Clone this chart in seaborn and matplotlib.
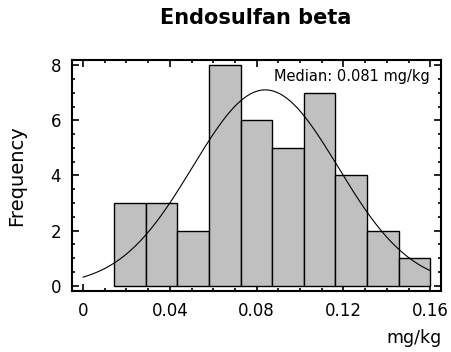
import numpy as np
import matplotlib
matplotlib.use("Agg")
import matplotlib.pyplot as plt
import seaborn as sns
from matplotlib.ticker import MultipleLocator

# Data
bin_edges = [0.0144, 0.0290, 0.0435, 0.0581, 0.0727, 0.0872, 0.1018, 0.1163, 0.1309, 0.1454, 0.1600]
counts = [3, 3, 2, 8, 6, 5, 7, 4, 2, 1]
fit_mean = 0.084
fit_sd = 0.0335
median_value = 0.081
title = "Endosulfan beta"
x_label = "mg/kg"
y_label = "Frequency"

sns.set_style("ticks")
plt.rcParams['font.family'] = ['DejaVu Sans']
plt.rcParams['text.color'] = 'black'
plt.rcParams['axes.labelcolor'] = 'black'

fig = plt.figure(figsize=(4.51, 3.52), dpi=100)
ax = fig.add_axes([0.160, 0.173, 0.818, 0.657])

centers = [(bin_edges[i] + bin_edges[i + 1]) / 2 for i in range(len(counts))]
sns.histplot(x=centers, weights=counts, bins=bin_edges, ax=ax,
             color="#c0c0c0", edgecolor="black", linewidth=1.0, alpha=1.0)

# Fitted normal curve scaled to counts
n_total = sum(counts)
bw = (bin_edges[-1] - bin_edges[0]) / len(counts)
xs = np.linspace(0, 0.16, 200)
ys = n_total * bw / (fit_sd * np.sqrt(2 * np.pi)) * np.exp(-(xs - fit_mean) ** 2 / (2 * fit_sd ** 2))
sns.lineplot(x=xs, y=ys, ax=ax, color="black", linewidth=0.8)

ax.set_xlim(-0.005, 0.165)
ax.set_ylim(-0.2, 8.2)
ax.set_xticks([0, 0.04, 0.08, 0.12, 0.16])
ax.set_xticklabels(["0", "0.04", "0.08", "0.12", "0.16"])
ax.set_yticks([0, 2, 4, 6, 8])
ax.xaxis.set_minor_locator(MultipleLocator(0.01))
ax.yaxis.set_minor_locator(MultipleLocator(0.5))
ax.tick_params(which="both", direction="in", top=True, right=True, width=1.2,
               labelsize=12, colors="black", labelcolor="black")
ax.tick_params(which="major", length=5, pad=8)
ax.tick_params(which="minor", length=2.5)
for s in ax.spines.values():
    s.set_linewidth(1.5)
    s.set_color("black")

ax.set_ylabel(y_label, fontsize=14, color="black")
ax.yaxis.set_label_coords(-0.125, 0.5)
ax.set_xlabel("")
fig.text(0.98, 0.04, x_label, ha="right", va="center", fontsize=12.5, color="black")
fig.text(0.568, 0.95, title, ha="center", va="center", fontsize=15, fontweight="bold", color="black")
ax.text(0.97, 0.96, f"Median: {median_value} mg/kg", transform=ax.transAxes,
        ha="right", va="top", fontsize=10.5, color="black")

fig.savefig("out.png", dpi=100)
